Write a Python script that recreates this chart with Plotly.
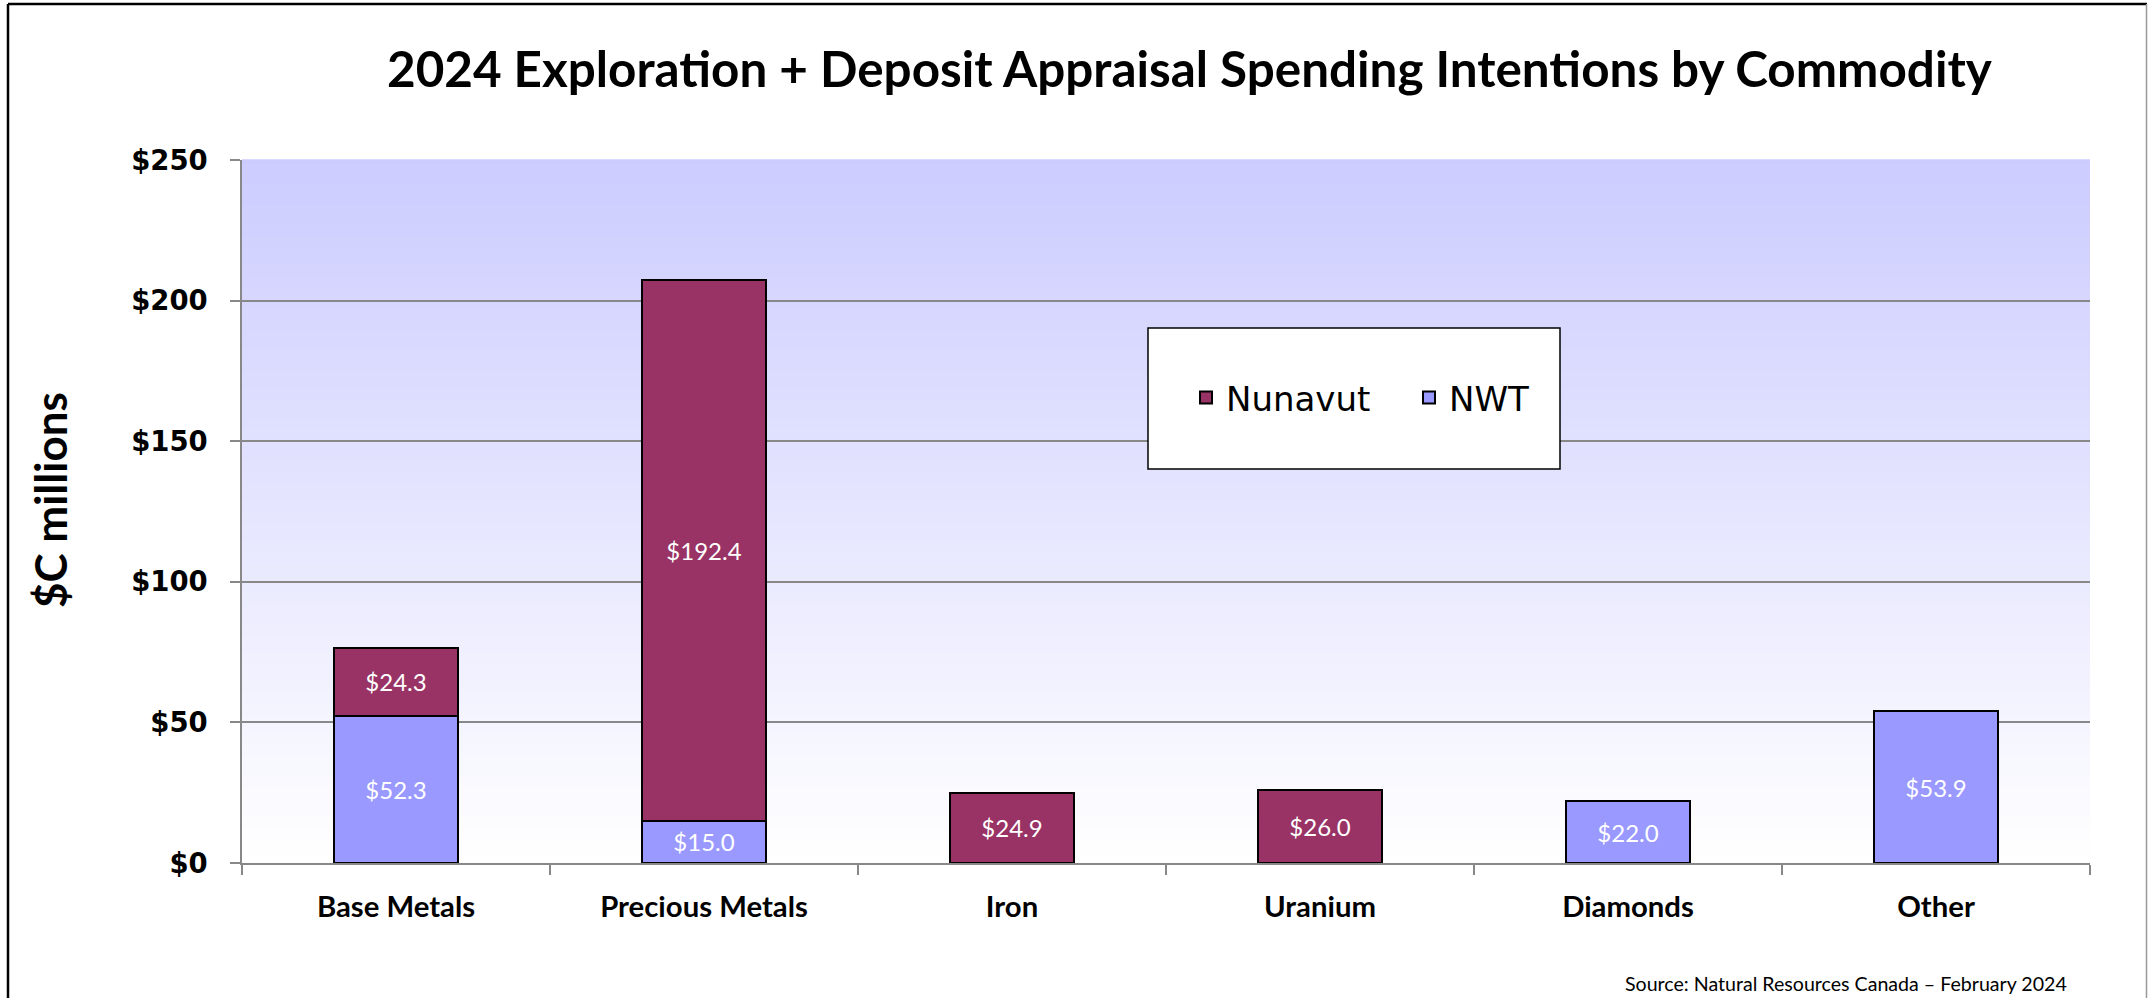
import plotly.graph_objects as go

# ---- data ----
categories = ["Base Metals", "Precious Metals", "Iron", "Uranium", "Diamonds", "Other"]
nwt_values = [52.3, 15.0, None, None, 22.0, 53.9]
nunavut_values = [24.3, 192.4, 24.9, 26.0, None, None]
y_tick_values = [0, 50, 100, 150, 200, 250]
y_tick_labels = ["$0", "$50", "$100", "$150", "$200", "$250"]

title_text = "2024 Exploration + Deposit Appraisal Spending Intentions by Commodity"
source_text = "Source: Natural Resources Canada \u2013 February 2024"

NWT_COLOR = "#9999FF"
NUN_COLOR = "#993366"

W, H = 2148, 998
L, R, T, B = 242, 58, 160, 135
PW, PH = W - L - R, H - T - B


def px_x(px):
    return (px - L) / PW


def px_y(py):
    return (H - B - py) / PH


fig = go.Figure()

fig.add_trace(go.Bar(
    name="NWT", x=categories, y=nwt_values,
    marker=dict(color=NWT_COLOR, line=dict(color="black", width=2)),
    texttemplate="$%{y:.1f}", textposition="inside", insidetextanchor="middle",
    textangle=0, constraintext="none",
    textfont=dict(family="Lato", size=24, color="white"),
    hoverinfo="x+y+name",
))
fig.add_trace(go.Bar(
    name="Nunavut", x=categories, y=nunavut_values,
    marker=dict(color=NUN_COLOR, line=dict(color="black", width=2)),
    texttemplate="$%{y:.1f}", textposition="inside", insidetextanchor="middle",
    textangle=0, constraintext="none",
    textfont=dict(family="Lato", size=24, color="white"),
    hoverinfo="x+y+name",
))

# background gradient in the plot area (light lavender at top to white at bottom)
shapes = []
n_bands = 120
top = (204, 204, 255)
bot = (255, 255, 255)
for i in range(n_bands):
    f = (i + 0.5) / n_bands  # 0 bottom -> 1 top
    c = tuple(round(bot[k] + (top[k] - bot[k]) * f) for k in range(3))
    shapes.append(dict(
        type="rect", xref="x domain", yref="y domain",
        x0=0, x1=1, y0=i / n_bands, y1=(i + 1) / n_bands + 0.001,
        fillcolor="rgb(%d,%d,%d)" % c, line=dict(width=0), layer="below",
    ))

# legend box
shapes.append(dict(
    type="rect", xref="paper", yref="paper",
    x0=px_x(1148), x1=px_x(1560), y0=px_y(469), y1=px_y(328),
    fillcolor="white", line=dict(color="black", width=1.5), layer="above",
))

# outer border: top & left black, right gray
shapes.append(dict(type="line", xref="paper", yref="paper",
                   x0=px_x(8), x1=px_x(2147), y0=px_y(4), y1=px_y(4),
                   line=dict(color="black", width=2.5)))
shapes.append(dict(type="line", xref="paper", yref="paper",
                   x0=px_x(8), x1=px_x(8), y0=px_y(4), y1=px_y(1000),
                   line=dict(color="black", width=2.5)))
shapes.append(dict(type="line", xref="paper", yref="paper",
                   x0=px_x(2146.5), x1=px_x(2146.5), y0=px_y(4), y1=px_y(1000),
                   line=dict(color="#999999", width=1.5)))

annotations = [
    dict(text=title_text, xref="paper", yref="paper",
         x=px_x(1190), y=px_y(68), xanchor="center", yanchor="middle",
         showarrow=False, font=dict(family="Lato", size=49.4, color="black", weight="bold")),
    dict(text="$C millions", xref="paper", yref="paper",
         x=px_x(50), y=px_y(500), xanchor="center", yanchor="middle", textangle=-90,
         showarrow=False, font=dict(family="Lato", size=44, color="black", weight="bold")),
    dict(text=source_text, xref="paper", yref="paper",
         x=px_x(2069), y=px_y(983), xanchor="right", yanchor="middle",
         showarrow=False, font=dict(family="Lato", size=19.6, color="black")),
]

fig.update_layout(
    width=W, height=H,
    margin=dict(l=L, r=R, t=T, b=B, pad=0),
    paper_bgcolor="white", plot_bgcolor="white",
    barmode="stack", bargap=0.6,
    shapes=shapes, annotations=annotations,
    showlegend=True,
    legend=dict(
        orientation="h", traceorder="reversed",
        x=px_x(1186), y=px_y(398), xanchor="left", yanchor="middle",
        bgcolor="rgba(0,0,0,0)", borderwidth=0,
        font=dict(family="DejaVu Sans", size=34, color="black"),
        entrywidth=178, entrywidthmode="pixels",
    ),
    xaxis=dict(
        type="category", range=[-0.5, 5.5],
        showline=True, linecolor="#888888", linewidth=1.5,
        ticks="outside", tickson="boundaries", ticklen=10, tickcolor="#888888", tickwidth=1.5,
        showgrid=False, zeroline=False,
        tickfont=dict(family="Lato", size=29.3, color="black", weight="bold"),
        ticklabelstandoff=17,
    ),
    yaxis=dict(
        range=[0, 250], tickvals=y_tick_values, ticktext=y_tick_labels,
        showline=True, linecolor="#888888", linewidth=1.5,
        ticks="outside", ticklen=10, tickcolor="#888888", tickwidth=1.5,
        showgrid=True, gridcolor="#888888", gridwidth=1.5,
        zeroline=False,
        tickfont=dict(family="DejaVu Sans", size=27.5, color="black", weight="bold"),
        ticklabelstandoff=17,
    ),
)

fig.write_html(
    "out.html",
    config={"displayModeBar": False},
    post_script="document.body.style.margin='0';document.body.style.padding='0';",
)
